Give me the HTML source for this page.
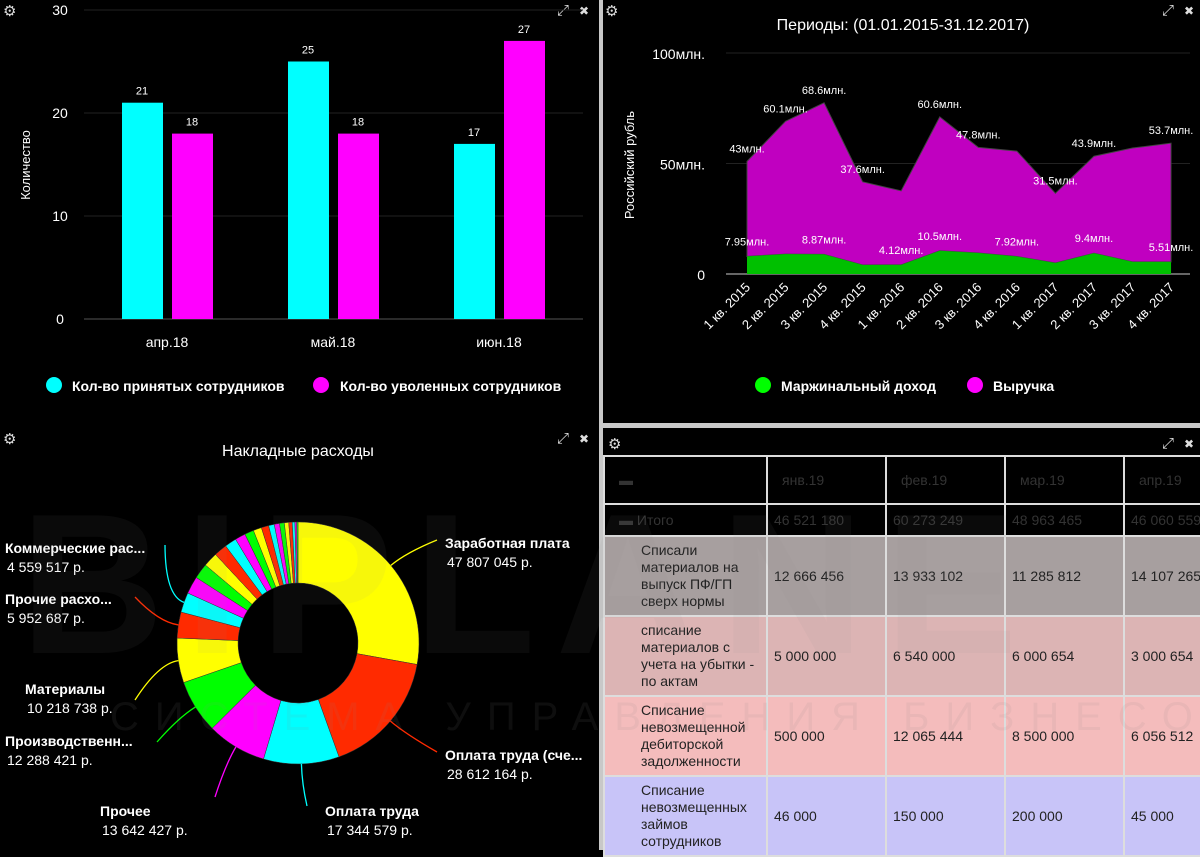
<!DOCTYPE html>
<html><head><meta charset="utf-8"><style>
body{margin:0;width:1200px;height:850px;background:#000;overflow:hidden;font-family:"Liberation Sans","DejaVu Sans",sans-serif;position:relative}
svg{position:absolute;left:0;top:0}
.tbl{position:absolute;left:603px;top:455px;width:597px;table-layout:fixed;border-collapse:collapse;font-family:"Liberation Sans","DejaVu Sans",sans-serif;font-size:14px;color:#222}
.tbl td{border:2px solid #ddd;padding:0;vertical-align:middle;overflow:hidden;white-space:nowrap}
.tbl td.w{white-space:normal}
</style></head><body>
<svg id="chart" width="1200" height="850"></svg>
<table class="tbl">
<colgroup><col style="width:163px"><col style="width:119px"><col style="width:119px"><col style="width:119px"><col style="width:77px"></colgroup>
<tr style="height:48px;background:#000;color:#333"><td style="padding-left:14px">▬</td><td style="padding-left:14px">янв.19</td><td style="padding-left:14px">фев.19</td><td style="padding-left:14px">мар.19</td><td style="padding-left:14px">апр.19</td></tr>
<tr style="height:32px;background:#000;color:#333"><td style="padding-left:14px">▬ Итого</td><td style="padding-left:6px">46 521 180</td><td style="padding-left:6px">60 273 249</td><td style="padding-left:6px">48 963 465</td><td style="padding-left:6px">46 060 559</td></tr>
<tr style="height:80px;background:#a79f9f"><td class="w" style="padding-left:36px;line-height:17px">Списали материалов на выпуск ПФ/ГП сверх нормы</td><td style="padding-left:6px">12 666 456</td><td style="padding-left:6px">13 933 102</td><td style="padding-left:6px">11 285 812</td><td style="padding-left:6px">14 107 265</td></tr>
<tr style="height:80px;background:#dcb4b4"><td class="w" style="padding-left:36px;line-height:17px">списание материалов с учета на убытки - по актам</td><td style="padding-left:6px">5 000 000</td><td style="padding-left:6px">6 540 000</td><td style="padding-left:6px">6 000 654</td><td style="padding-left:6px">3 000 654</td></tr>
<tr style="height:80px;background:#f4bcbc"><td class="w" style="padding-left:36px;line-height:17px">Списание невозмещенной дебиторской задолженности</td><td style="padding-left:6px">500 000</td><td style="padding-left:6px">12 065 444</td><td style="padding-left:6px">8 500 000</td><td style="padding-left:6px">6 056 512</td></tr>
<tr style="height:80px;background:#c8c4f8"><td class="w" style="padding-left:36px;line-height:17px">Списание невозмещенных займов сотрудников</td><td style="padding-left:6px">46 000</td><td style="padding-left:6px">150 000</td><td style="padding-left:6px">200 000</td><td style="padding-left:6px">45 000</td></tr>
</table>
<div style="position:absolute;left:20px;top:470px;font-size:200px;font-weight:bold;color:rgba(140,140,140,0.07);letter-spacing:20px;white-space:nowrap;pointer-events:none">BIPLANE</div>
<div style="position:absolute;left:110px;top:695px;font-size:40px;color:rgba(140,140,140,0.1);letter-spacing:16px;white-space:nowrap;pointer-events:none">СИСТЕМА УПРАВЛЕНИЯ БИЗНЕСОМ</div>
<script>
const barCats=["апр.18","май.18","июн.18"];
const hired=[21,25,17];
const fired=[18,18,27];
const barTicks=[0,10,20,30];
const quarters=["1 кв. 2015","2 кв. 2015","3 кв. 2015","4 кв. 2015","1 кв. 2016","2 кв. 2016","3 кв. 2016","4 кв. 2016","1 кв. 2017","2 кв. 2017","3 кв. 2017","4 кв. 2017"];
const margin=[7.95,9,8.87,4.1,4.12,10.5,9.5,7.92,5,9.4,5.5,5.51];
const revenue=[43,60.1,68.6,37.6,33.5,60.6,47.8,47.7,31.5,43.9,51.5,53.7];
const revLabelShown=[1,1,1,1,0,1,1,0,1,1,0,1];
const marLabelShown=[1,0,1,0,1,1,0,1,0,1,0,1];
const areaTicks=[0,50,100];
const pieValues=[47807045,28612164,17344579,13642427,12288421,10218738,5952687,4559517,4000000,3500000,3300000,3000000,2700000,2400000,2100000,1900000,1700000,1300000,1200000,1100000,1000000,800000,600000,400000,300000];
const pieColors=["#ffff00","#ff2a00","#00ffff","#ff00ff","#00ff00"];
const pieNames=["Заработная плата","Оплата труда (сче...","Оплата труда","Прочее","Производственн...","Материалы","Прочие расхо...","Коммерческие рас..."];
const pieValueText=["47 807 045 р.","28 612 164 р.","17 344 579 р.","13 642 427 р.","12 288 421 р.","10 218 738 р.","5 952 687 р.","4 559 517 р."];
const pieLabelPos=[[445,543],[445,755],[325,811],[100,811],[5,741],[25,689],[5,599],[5,548]];
const pieLineEnd=[[437,540],[437,752],[307,806],[215,797],[157,742],[135,700],[135,597],[165,545]];

const svg=document.getElementById('chart');
const NS="http://www.w3.org/2000/svg";
function mk(tag,attrs,name,inter,parent){const e=document.createElementNS(NS,tag);for(const k in attrs)e.setAttribute(k,attrs[k]);


(parent||svg).appendChild(e);return e;}
function txt(x,y,s,attrs,name){const t=mk('text',Object.assign({x:x,y:y,fill:'#fff','font-size':13},attrs||{}),name,false);t.textContent=s;return t;}

mk('rect',{x:599,y:0,width:4,height:850,fill:'#c8c8c8'},'panel-divider-vertical',false);
mk('rect',{x:603,y:423,width:597,height:5,fill:'#c8c8c8'},'panel-divider-horizontal',false);
mk('rect',{x:603,y:428,width:597,height:27,fill:'#000'},'table-header-bar',false);

[[3,0,585],[605,0,1190],[3,428,585],[608,433,1190]].forEach((p,i)=>{
 txt(p[0],p[1]+16,'⚙',{'font-size':15,fill:'#ddd'},'settings-icon-'+i);
 txt(p[2]-28,p[1]+15,'⤢',{'font-size':15,fill:'#ddd'},'expand-icon-'+i);
 txt(p[2]-6,p[1]+15,'✖',{'font-size':12,fill:'#ddd'},'close-icon-'+i);
});

// ---- bar chart
const by=v=>319-v*10.3;
const bx=i=>167+i*166;
barTicks.forEach(t=>{mk('line',{x1:84,x2:583,y1:by(t),y2:by(t),stroke:t?'#222':'#555','stroke-width':1},'bar-gridline-'+t,false);
 txt(60,by(t)+5,String(t),{'text-anchor':'middle','font-size':14},'bar-y-tick-'+t);});
txt(0,0,'Количество',{'font-size':13,transform:'translate(30,165) rotate(-90)','text-anchor':'middle'},'bar-y-axis-title');
barCats.forEach((c,i)=>{
 txt(bx(i),347,c,{'text-anchor':'middle','font-size':14},'bar-x-label-'+i);
 mk('rect',{x:bx(i)-45,y:by(hired[i]),width:41,height:by(0)-by(hired[i]),fill:'#00ffff'},'bar-hired-'+i,true);
 mk('rect',{x:bx(i)+5,y:by(fired[i]),width:41,height:by(0)-by(fired[i]),fill:'#ff00ff'},'bar-fired-'+i,true);
 txt(bx(i)-25,by(hired[i])-8,String(hired[i]),{'text-anchor':'middle','font-size':11},'bar-hired-value-'+i);
 txt(bx(i)+25,by(fired[i])-8,String(fired[i]),{'text-anchor':'middle','font-size':11},'bar-fired-value-'+i);
});
mk('circle',{cx:54,cy:385,r:8,fill:'#00ffff'},'legend-hired-marker',true);
txt(72,391,'Кол-во принятых сотрудников',{'font-size':14,'font-weight':'bold'},'legend-hired');
mk('circle',{cx:321,cy:385,r:8,fill:'#ff00ff'},'legend-fired-marker',true);
txt(340,391,'Кол-во уволенных сотрудников',{'font-size':14,'font-weight':'bold'},'legend-fired');

// ---- area chart
const ay=v=>274-v*2.21;
const ax=i=>747+i*38.55;
txt(903,30,'Периоды: (01.01.2015-31.12.2017)',{'text-anchor':'middle','font-size':16},'area-chart-title');
areaTicks.forEach(t=>{mk('line',{x1:726,x2:1190,y1:ay(t),y2:ay(t),stroke:t?'#222':'#666','stroke-width':t?1:2},'area-gridline-'+t,false);
 txt(705,ay(t)+6,t?t+'млн.':'0',{'text-anchor':'end','font-size':14},'area-y-tick-'+t);});
txt(0,0,'Российский рубль',{'font-size':13,transform:'translate(634,165) rotate(-90)','text-anchor':'middle'},'area-y-axis-title');
let revTop='',marTop='';
revenue.forEach((v,i)=>{revTop+=(i?'L':'M')+ax(i)+','+ay(v+margin[i]);marTop+=(i?'L':'M')+ax(i)+','+ay(margin[i]);});
let marBack='';for(let i=margin.length-1;i>=0;i--)marBack+='L'+ax(i)+','+ay(margin[i]);
mk('path',{d:revTop+marBack+'Z',fill:'#c000c0',stroke:'#444','stroke-width':1},'area-revenue',true);
mk('path',{d:marTop+'L'+ax(11)+','+ay(0)+'L'+ax(0)+','+ay(0)+'Z',fill:'#00c000'},'area-margin',true);
quarters.forEach((q,i)=>{
 txt(0,0,q,{'font-size':13,'text-anchor':'end',transform:'translate('+(ax(i)+4)+',288) rotate(-45)'},'area-x-label-'+i);
 if(revLabelShown[i])txt(ax(i),ay(revenue[i]+margin[i])-9,revenue[i]+'млн.',{'text-anchor':'middle','font-size':11},'revenue-value-'+i);
 if(marLabelShown[i])txt(ax(i),ay(margin[i])-11,margin[i]+'млн.',{'text-anchor':'middle','font-size':11},'margin-value-'+i);
});
mk('circle',{cx:763,cy:385,r:8,fill:'#00ff00'},'legend-margin-marker',true);
txt(781,391,'Маржинальный доход',{'font-size':14,'font-weight':'bold'},'legend-margin');
mk('circle',{cx:975,cy:385,r:8,fill:'#ff00ff'},'legend-revenue-marker',true);
txt(993,391,'Выручка',{'font-size':14,'font-weight':'bold'},'legend-revenue');

// ---- donut
txt(298,456,'Накладные расходы',{'text-anchor':'middle','font-size':16},'donut-title');
const cx=298,cy=643,R=121,r=60;
const total=pieValues.reduce((a,b)=>a+b,0);
let ang=0;
pieValues.forEach((v,i)=>{
 const a0=ang,a1=ang+v/total*2*Math.PI;ang=a1;
 const p=(a,rad)=>[cx+rad*Math.sin(a),cy-rad*Math.cos(a)];
 const [x0,y0]=p(a0,R),[x1,y1]=p(a1,R),[x2,y2]=p(a1,r),[x3,y3]=p(a0,r);
 const lg=(a1-a0)>Math.PI?1:0;
 const col=pieColors[i%5];
 mk('path',{d:`M${x0},${y0}A${R},${R} 0 ${lg} 1 ${x1},${y1}L${x2},${y2}A${r},${r} 0 ${lg} 0 ${x3},${y3}Z`,fill:col,stroke:'#333','stroke-width':0.5},'donut-slice-'+i,true);
 if(i<pieNames.length){
  const m=(a0+a1)/2,[ex,ey]=p(m,R),[fx,fy]=p(m,R+20);
  const lp=pieLabelPos[i],le=pieLineEnd[i];
  mk('path',{d:`M${ex},${ey}Q${fx},${fy} ${le[0]},${le[1]}`,fill:'none',stroke:col,'stroke-width':1.3},'donut-connector-'+i,false);
  txt(lp[0],lp[1]+5,pieNames[i],{'font-size':14,'font-weight':'bold'},'donut-label-'+i);
  txt(lp[0]+2,lp[1]+24,pieValueText[i],{'font-size':14},'donut-value-'+i);
 }
});
</script>
</body></html>
